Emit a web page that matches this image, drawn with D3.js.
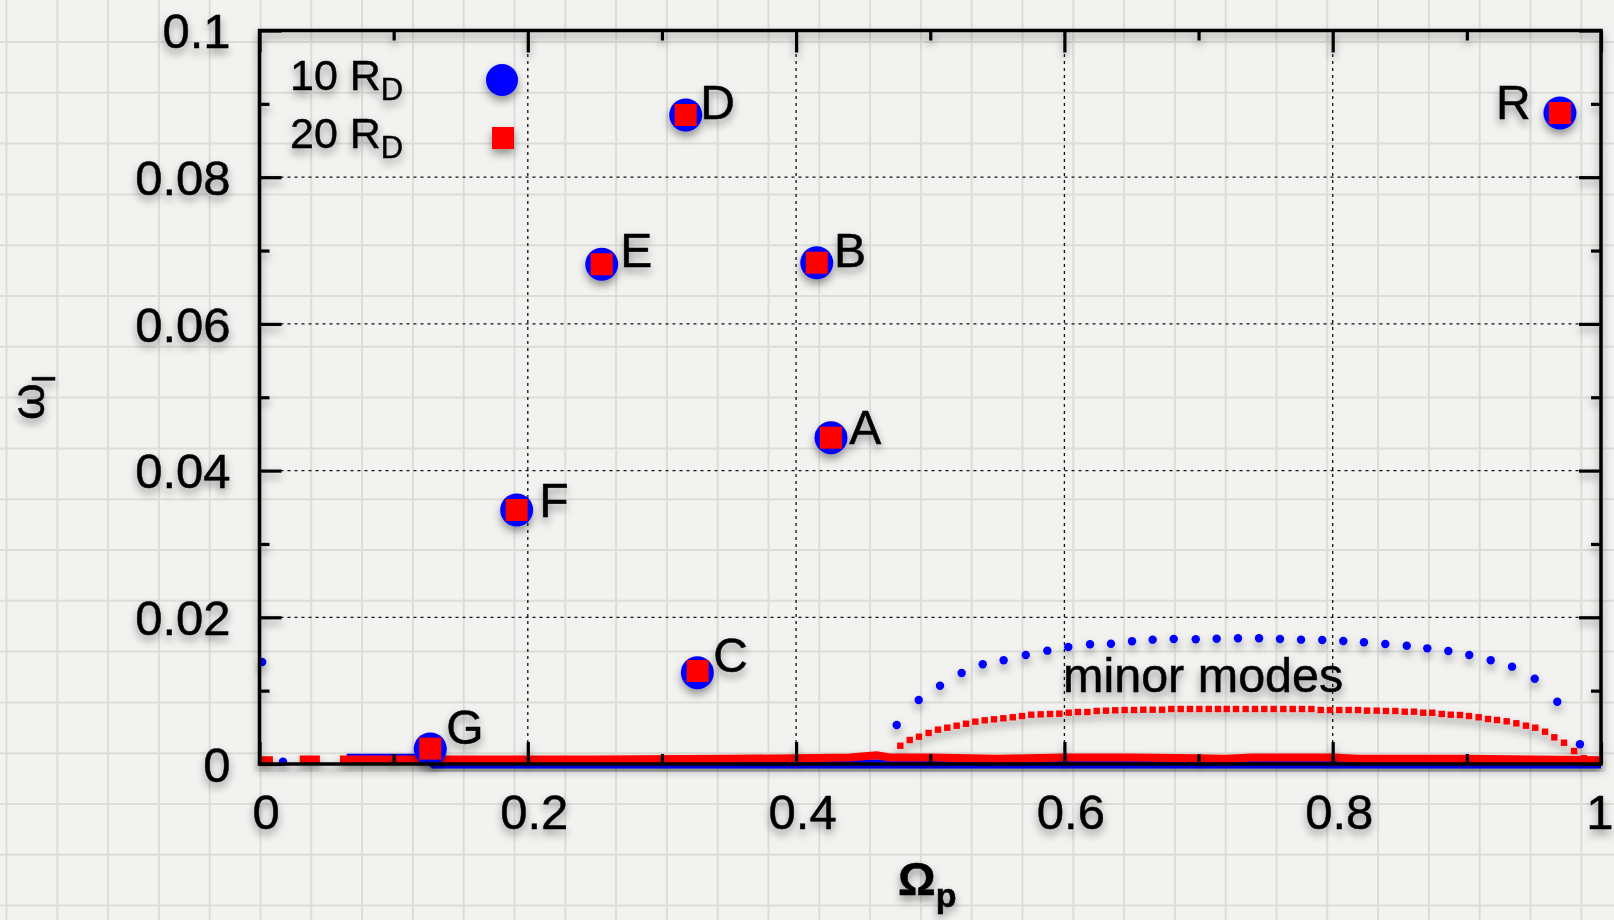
<!DOCTYPE html>
<html>
<head>
<meta charset="utf-8">
<script src="https://cdn.jsdelivr.net/npm/d3@7"></script>
<style>
  html, body { margin: 0; padding: 0; background: #f1f1ef; }
  svg { display: block; font-family: "Liberation Sans", Arial, Helvetica, sans-serif; }
</style>
</head>
<body>
<svg id="chart" width="1614" height="920"></svg>
<script>
// ---- Major modes (pattern speed Ω_p, growth rate ω_I) ----
const modeNames    = ["A", "B", "C", "D", "E", "F", "G", "R"];
const modeOmega10  = [0.4260, 0.4154, 0.3264, 0.3177, 0.2551, 0.1917, 0.1273, 0.9694];
const modeGrowth10 = [0.04449, 0.06834, 0.01245, 0.08848, 0.06813, 0.03463, 0.00204, 0.08875];
const modeOmega20  = [0.4260, 0.4154, 0.3266, 0.3177, 0.2551, 0.1917, 0.1273, 0.9694];
const modeGrowth20 = [0.04449, 0.06834, 0.01268, 0.08848, 0.06813, 0.03463, 0.00210, 0.08875];
// where each mode's letter sits (data coordinates)
const labelOmega   = [0.4397, 0.4283, 0.3383, 0.3286, 0.2690, 0.2086, 0.1393, 0.9476];
const labelGrowth  = [0.04363, 0.06780, 0.01258, 0.08789, 0.06772, 0.03372, 0.00273, 0.08794];

// ---- Minor modes, 10 R_D (dots) ----
const minorOmega10 = [0.0020, 0.0175,
  0.4750, 0.4914, 0.5073, 0.5234, 0.5391, 0.5547, 0.5712, 0.5873, 0.6029, 0.6191,
  0.6347, 0.6504, 0.6658, 0.6815, 0.6979, 0.7135, 0.7294, 0.7451, 0.7607, 0.7764,
  0.7922, 0.8079, 0.8233, 0.8392, 0.8552, 0.8705, 0.8862, 0.9018, 0.9178, 0.9337,
  0.9506, 0.9674, 0.9843];
const minorGrowth10 = [0.0139, 0.0003,
  0.00532, 0.00873, 0.01067, 0.01241, 0.01359, 0.01414, 0.01486, 0.01545, 0.01595, 0.01632,
  0.01640, 0.01673, 0.01695, 0.01704, 0.01700, 0.01708, 0.01714, 0.01714, 0.01704, 0.01695,
  0.01691, 0.01677, 0.01659, 0.01636, 0.01613, 0.01577, 0.01541, 0.01486, 0.01414, 0.01327,
  0.01163, 0.00849, 0.00269];

// ---- Minor modes, 20 R_D (squares) ----
const minorOmega20 = [
  0.4777, 0.4847, 0.4916, 0.4988, 0.5058, 0.5127, 0.5197, 0.5267, 0.5336, 0.5406,
  0.5475, 0.5545, 0.5615, 0.5684, 0.5753, 0.5823, 0.5893, 0.5962, 0.6032, 0.6101,
  0.6171, 0.6241, 0.6310, 0.6379, 0.6449, 0.6519, 0.6588, 0.6658, 0.6728, 0.6797,
  0.6867, 0.6936, 0.7006, 0.7076, 0.7145, 0.7210, 0.7279, 0.7351, 0.7421, 0.7490,
  0.7560, 0.7632, 0.7702, 0.7771, 0.7841, 0.7911, 0.7980, 0.8049, 0.8119, 0.8189,
  0.8256, 0.8328, 0.8397, 0.8467, 0.8537, 0.8606, 0.8675, 0.8742, 0.8813, 0.8880,
  0.8949, 0.9016, 0.9088, 0.9158, 0.9225, 0.9297, 0.9369, 0.9441, 0.9510, 0.9583,
  0.9652, 0.9724, 0.9799, 0.9873];
const minorGrowth20 = [
  0.00249, 0.00327, 0.00372, 0.00423, 0.00468, 0.00495, 0.00522, 0.00549, 0.00577, 0.00596,
  0.00609, 0.00623, 0.00637, 0.00654, 0.00672, 0.00677, 0.00682, 0.00686, 0.00699, 0.00709,
  0.00709, 0.00723, 0.00727, 0.00732, 0.00736, 0.00736, 0.00740, 0.00740, 0.00740, 0.00750,
  0.00750, 0.00750, 0.00750, 0.00750, 0.00750, 0.00750, 0.00750, 0.00750, 0.00750, 0.00750,
  0.00750, 0.00750, 0.00750, 0.00750, 0.00750, 0.00736, 0.00736, 0.00736, 0.00736, 0.00736,
  0.00727, 0.00727, 0.00723, 0.00723, 0.00713, 0.00713, 0.00699, 0.00699, 0.00682, 0.00672,
  0.00668, 0.00654, 0.00637, 0.00613, 0.00600, 0.00582, 0.00555, 0.00522, 0.00495, 0.00440,
  0.00364, 0.00290, 0.00177, 0.00078];

// ---- Damped / neutral modes crowding the axis (null = gap) ----
const lowOmega10  = [0.065, 0.125, 0.130, 0.200, 0.300, 0.400, 0.500, 0.600, 0.700, 0.800, 0.900, 1.000];
const lowGrowth10 = [0.0008, 0.0008, 0.0000, 0.0000, 0.0000, 0.0000, 0.0000, 0.0000, 0.0000, 0.0000, 0.0000, 0.0000];
const lowOmega20  = [0.000, 0.010, 0.011, 0.030, 0.045, 0.046, 0.060, 0.150, 0.250, 0.350, 0.400, 0.440, 0.460,
                     0.470, 0.500, 0.550, 0.600, 0.650, 0.700, 0.720, 0.740, 0.800, 0.820, 0.900, 0.950, 1.000];
const lowGrowth20 = [0.0005, 0.0005, null, 0.0006, 0.0006, null, 0.0006, 0.0006, 0.0006, 0.0007, 0.0008, 0.0009, 0.0012,
                     0.0009, 0.0009, 0.0007, 0.0009, 0.0009, 0.0008, 0.0007, 0.0009, 0.0009, 0.0007, 0.0007, 0.0006, 0.0005];

// ---- Axes ----
const xTicks = [0, 0.2, 0.4, 0.6, 0.8, 1];
const xTickLabels = ["0", "0.2", "0.4", "0.6", "0.8", "1"];
const xMinorTicks = [0.1, 0.3, 0.5, 0.7, 0.9];
const yTicks = [0, 0.02, 0.04, 0.06, 0.08, 0.1];
const yTickLabels = ["0", "0.02", "0.04", "0.06", "0.08", "0.1"];
const yMinorTicks = [0.01, 0.03, 0.05, 0.07, 0.09];
const seriesNames = ["10 R", "20 R"];

const W = 1614, H = 920;
const svg = d3.select("#chart");

const x = d3.scaleLinear().domain([0, 1]).range([259.5, 1601]);
const y = d3.scaleLinear().domain([0, 0.1]).range([764, 30.5]);

const defs = svg.append("defs");
defs.append("filter").attr("id", "shadow")
  .attr("x", "-30%").attr("y", "-30%").attr("width", "160%").attr("height", "180%")
  .append("feDropShadow")
  .attr("dx", 0).attr("dy", 5).attr("stdDeviation", 4.5)
  .attr("flood-color", "#000").attr("flood-opacity", 0.4);
defs.append("clipPath").attr("id", "plotClip")
  .append("rect").attr("x", x(0) - 6).attr("y", y(0.1)).attr("width", x(1) - x(0) + 12).attr("height", y(0) - y(0.1) + 8);

// ---- Graph-paper backdrop ----
svg.append("rect").attr("width", W).attr("height", H).attr("fill", "#f2f2f0");
const paper = svg.append("g").attr("stroke", "#dcdcd9").attr("stroke-width", 2);
paper.selectAll("line.v").data(d3.range(6.5, W, 50.8)).join("line")
  .attr("class", "v").attr("x1", d => d).attr("x2", d => d).attr("y1", 0).attr("y2", H);
paper.selectAll("line.h").data(d3.range(-8.8, H, 50.8)).join("line")
  .attr("class", "h").attr("y1", d => d).attr("y2", d => d).attr("x1", 0).attr("x2", W);

// ---- Dotted reference grid ----
const grid = svg.append("g").attr("stroke", "#111").attr("stroke-width", 1.3).attr("stroke-dasharray", "3,4");
grid.selectAll("line.gx").data(xTicks.slice(1, -1)).join("line").attr("class", "gx")
  .attr("x1", d => x(d)).attr("x2", d => x(d)).attr("y1", y(0)).attr("y2", y(0.1));
grid.selectAll("line.gy").data(yTicks.slice(1, -1)).join("line").attr("class", "gy")
  .attr("y1", d => y(d)).attr("y2", d => y(d)).attr("x1", x(0)).attr("x2", x(1));

// ---- Data ----
const data = svg.append("g").attr("filter", "url(#shadow)").attr("clip-path", "url(#plotClip)");

const lowLine = d3.line().defined(d => d[1] !== null).x(d => x(d[0])).y(d => y(d[1]));
data.append("path").datum(d3.zip(lowOmega10, lowGrowth10))
  .attr("d", lowLine).attr("fill", "none").attr("stroke", "#0000ff").attr("stroke-width", 9);
data.append("path").datum(d3.zip(lowOmega20, lowGrowth20))
  .attr("d", lowLine).attr("fill", "none").attr("stroke", "#ff0000").attr("stroke-width", 8);

data.selectAll("circle.minor").data(d3.zip(minorOmega10, minorGrowth10)).join("circle")
  .attr("class", "minor").attr("cx", d => x(d[0])).attr("cy", d => y(d[1])).attr("r", 4.2).attr("fill", "#0000ff");
data.selectAll("rect.minor").data(d3.zip(minorOmega20, minorGrowth20)).join("rect")
  .attr("class", "minor").attr("x", d => x(d[0]) - 3.2).attr("y", d => y(d[1]) - 3.2)
  .attr("width", 6.4).attr("height", 6.4).attr("fill", "#ff0000");

const marks = svg.append("g").attr("filter", "url(#shadow)");
marks.selectAll("circle.major").data(d3.zip(modeOmega10, modeGrowth10)).join("circle")
  .attr("class", "major").attr("cx", d => x(d[0])).attr("cy", d => y(d[1])).attr("r", 16.5).attr("fill", "#0000ff");
marks.selectAll("rect.major").data(d3.zip(modeOmega20, modeGrowth20)).join("rect")
  .attr("class", "major").attr("x", d => x(d[0]) - 11).attr("y", d => y(d[1]) - 11)
  .attr("width", 22).attr("height", 22).attr("fill", "#ff0000");

// ---- Text (letters, labels) ----
const texts = svg.append("g").attr("filter", "url(#shadow)").attr("fill", "#000")
  .attr("stroke", "#000").attr("stroke-width", 0.5);

texts.selectAll("text.mode").data(modeNames).join("text")
  .attr("class", "mode")
  .attr("x", (d, i) => x(labelOmega[i])).attr("y", (d, i) => y(labelGrowth[i]))
  .attr("text-anchor", (d, i) => labelOmega[i] < modeOmega10[i] ? "end" : "start")
  .attr("font-size", 48).text(d => d);

texts.append("text").attr("x", 1063).attr("y", 691.5).attr("font-size", 48.5).text("minor modes");

// ---- Frame and ticks ----
const frame = svg.append("g").attr("filter", "url(#shadow)");
function styleAxis(g) {
  g.select(".domain").remove();
  g.selectAll(".tick line").attr("stroke", "#000").attr("stroke-width", 3.2);
  g.selectAll(".tick text").attr("fill", "#000").attr("stroke", "#000").attr("stroke-width", 0.5)
    .attr("font-size", 49)
    .attr("font-family", "\"Liberation Sans\", Arial, Helvetica, sans-serif");
}
frame.append("g").attr("transform", `translate(0,${y(0)})`)
  .call(d3.axisBottom(x).tickValues(xTicks).tickSizeInner(-22).tickSizeOuter(0).tickPadding(30)
    .tickFormat((d, i) => xTickLabels[i]))
  .call(styleAxis)
  .call(g => g.selectAll(".tick text").attr("dx", 6))
  // keep the last label inside the page edge
  .call(g => g.selectAll(".tick text").filter(d => d === 1).attr("text-anchor", "end").attr("dx", W - 1 - x(1)));
frame.append("g").attr("transform", `translate(0,${y(0)})`)
  .call(d3.axisBottom(x).tickValues(xMinorTicks).tickSizeInner(-10).tickSizeOuter(0).tickFormat(""))
  .call(styleAxis);
frame.append("g").attr("transform", `translate(0,${y(0.1)})`)
  .call(d3.axisTop(x).tickValues(xTicks).tickSizeInner(-22).tickSizeOuter(0).tickFormat(""))
  .call(styleAxis);
frame.append("g").attr("transform", `translate(0,${y(0.1)})`)
  .call(d3.axisTop(x).tickValues(xMinorTicks).tickSizeInner(-10).tickSizeOuter(0).tickFormat(""))
  .call(styleAxis);
frame.append("g").attr("transform", `translate(${x(0)},0)`)
  .call(d3.axisLeft(y).tickValues(yTicks).tickSizeInner(-22).tickSizeOuter(0).tickPadding(29)
    .tickFormat((d, i) => yTickLabels[i]))
  .call(styleAxis)
  .call(g => g.selectAll(".tick text").attr("dy", "0.35em"));
frame.append("g").attr("transform", `translate(${x(0)},0)`)
  .call(d3.axisLeft(y).tickValues(yMinorTicks).tickSizeInner(-10).tickSizeOuter(0).tickFormat(""))
  .call(styleAxis);
frame.append("g").attr("transform", `translate(${x(1)},0)`)
  .call(d3.axisRight(y).tickValues(yTicks).tickSizeInner(-22).tickSizeOuter(0).tickFormat(""))
  .call(styleAxis);
frame.append("g").attr("transform", `translate(${x(1)},0)`)
  .call(d3.axisRight(y).tickValues(yMinorTicks).tickSizeInner(-10).tickSizeOuter(0).tickFormat(""))
  .call(styleAxis);
frame.append("rect")
  .attr("x", x(0)).attr("y", y(0.1)).attr("width", x(1) - x(0)).attr("height", y(0) - y(0.1))
  .attr("fill", "none").attr("stroke", "#000").attr("stroke-width", 3.5);

// ---- Axis titles ----
const xTitle = texts.append("text").attr("x", 898).attr("y", 895).attr("font-size", 47).attr("font-weight", "bold");
xTitle.append("tspan").text("Ω");
xTitle.append("tspan").attr("font-size", 34).attr("font-weight", "bold").attr("dy", 12).text("p");

const yTitle = texts.append("text").attr("transform", "translate(44,397) rotate(-90)")
  .attr("text-anchor", "middle").attr("font-size", 47);
yTitle.append("tspan").text("ω");
yTitle.append("tspan").attr("font-size", 33).attr("dy", 11).text("I");

// ---- Legend ----
const legend = svg.append("g").attr("filter", "url(#shadow)");
const legendRows = [90, 148];
seriesNames.forEach((name, i) => {
  const t = legend.append("text").attr("x", 290).attr("y", legendRows[i]).attr("font-size", 43)
    .attr("stroke", "#000").attr("stroke-width", 0.4);
  t.append("tspan").text(name);
  t.append("tspan").attr("font-size", 31).attr("dy", 10).text("D");
});
legend.append("circle").attr("cx", 502).attr("cy", 80).attr("r", 16).attr("fill", "#0000ff");
legend.append("rect").attr("x", 492).attr("y", 127).attr("width", 22).attr("height", 22).attr("fill", "#ff0000");
</script>
</body>
</html>
